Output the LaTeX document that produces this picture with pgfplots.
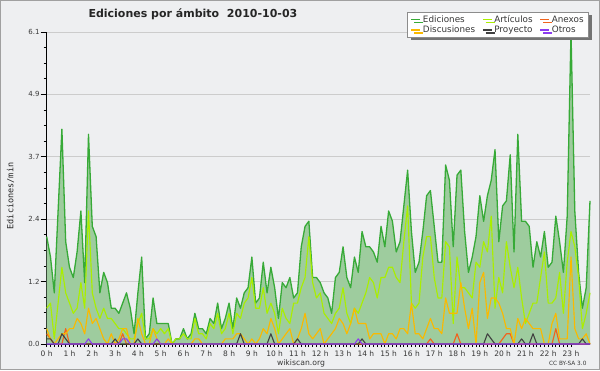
\documentclass[border=0pt]{standalone}
\usepackage{pgfplots}
\pgfplotsset{compat=1.18}
\usepackage{pgfplotstable}
\usepackage{fontspec}
\setmainfont{DejaVu Sans}
\newfontfamily\monofont{DejaVu Sans Mono}
\usetikzlibrary{shadows}
\definecolor{bgc}{RGB}{238,239,241}
\definecolor{framec}{RGB}{160,160,160}
\definecolor{gridc}{RGB}{204,204,204}
\definecolor{labc}{RGB}{55,55,55}
\definecolor{edline}{RGB}{55,170,55}
\definecolor{edfill}{RGB}{158,204,158}
\definecolor{artc}{RGB}{170,238,0}
\definecolor{discc}{RGB}{250,185,0}
\definecolor{anexc}{RGB}{240,100,30}
\definecolor{proyc}{RGB}{64,64,64}
\definecolor{otrosc}{RGB}{140,60,240}
\pgfplotstableread{
i ed art disc anex proy otros
0 2.1 0.7 0.3 0.2 0.1 0
1 1.7 0.8 0.1 0.1 0.1 0
2 1.0 0.1 0.0 0 0 0
3 2.6 0.8 0.1 0 0 0
4 4.2 1.5 0.2 0 0.2 0
5 2.0 1.0 0.2 0.3 0.1 0
6 1.5 0.8 0.3 0 0 0
7 1.3 0.6 0.3 0 0 0
8 1.8 0.7 0.5 0 0 0
9 2.6 1.2 0.4 0 0 0
10 1.2 0.7 0.2 0 0 0
11 4.1 2.6 0.7 0 0 0.1
12 2.3 1.0 0.4 0 0 0
13 2.1 0.7 0.5 0 0 0
14 1.0 0.5 0.3 0 0 0
15 1.4 0.7 0.1 0 0 0
16 1.2 0.5 0.0 0 0 0
17 0.7 0.5 0.2 0 0 0
18 0.7 0.4 0.0 0 0.1 0
19 0.6 0.3 0.1 0 0 0
20 0.8 0.3 0.3 0.2 0 0.1
21 1.0 0.2 0.3 0 0 0.1
22 0.7 0.1 0.0 0 0 0
23 0.2 0.1 0.0 0 0 0
24 1.0 0.4 0.5 0 0.1 0
25 1.7 0.6 0.2 0 0 0
26 0.1 0.1 0.0 0 0 0
27 0.2 0.1 0.0 0 0 0
28 0.9 0.3 0.3 0 0 0
29 0.4 0.2 0.1 0 0 0.1
30 0.4 0.3 0.0 0 0 0
31 0.4 0.2 0.0 0 0 0
32 0.4 0.3 0.1 0 0 0
33 0.0 0.0 0.0 0 0 0
34 0.1 0.1 0.0 0 0 0
35 0.1 0.1 0.0 0 0 0
36 0.3 0.2 0.0 0 0 0
37 0.1 0.1 0.0 0 0 0
38 0.2 0.1 0.0 0 0 0
39 0.6 0.5 0.1 0 0 0
40 0.3 0.2 0.1 0 0 0
41 0.3 0.2 0.0 0 0 0
42 0.2 0.1 0.0 0 0 0
43 0.5 0.4 0.0 0 0 0
44 0.4 0.3 0.0 0 0 0
45 0.8 0.6 0.0 0 0 0
46 0.3 0.2 0.0 0 0 0
47 0.5 0.3 0.1 0 0 0
48 0.8 0.6 0.1 0 0 0
49 0.3 0.2 0.1 0 0 0
50 0.9 0.6 0.2 0 0 0
51 0.7 0.5 0.2 0 0.2 0
52 1.0 0.8 0.1 0 0 0
53 1.1 0.9 0.0 0 0 0
54 1.7 1.3 0.1 0 0 0
55 0.8 0.7 0.0 0 0 0
56 0.9 0.7 0.1 0 0 0
57 1.6 1.1 0.3 0 0 0
58 1.0 0.6 0.2 0 0 0
59 1.5 0.8 0.5 0 0.2 0
60 1.1 0.6 0.3 0 0 0
61 0.5 0.2 0.0 0 0 0
62 1.2 0.7 0.1 0 0 0
63 1.1 0.5 0.2 0 0 0
64 1.3 0.4 0.3 0 0 0
65 0.9 0.8 0.0 0 0 0
66 1.0 0.8 0.1 0 0.1 0
67 1.9 1.1 0.3 0 0 0
68 2.3 1.3 0.6 0 0 0
69 2.4 2.1 0.2 0 0 0
70 1.3 1.2 0.1 0 0 0
71 1.3 0.9 0.2 0 0 0
72 1.2 1.0 0.3 0 0 0
73 1.0 0.6 0.0 0 0 0
74 0.9 0.5 0.1 0 0 0
75 0.6 0.4 0.2 0 0 0
76 1.3 0.6 0.3 0 0 0
77 1.4 0.7 0.5 0 0 0
78 1.9 1.1 0.4 0 0 0
79 1.3 0.6 0.2 0 0 0
80 1.1 0.4 0.4 0 0 0
81 1.7 0.7 0.7 0 0 0
82 1.4 0.6 0.4 0 0 0.1
83 2.2 0.8 0.4 0 0.1 0
84 1.9 1.0 0.4 0 0 0
85 1.9 1.3 0.1 0 0 0
86 1.8 1.2 0.2 0 0 0
87 1.6 0.9 0.2 0 0 0
88 2.3 1.3 0.2 0 0 0
89 1.9 1.3 0.0 0 0 0
90 2.6 1.5 0.2 0 0 0
91 2.4 1.5 0.2 0 0 0
92 1.8 1.3 0.1 0 0 0
93 2.0 1.2 0.3 0 0 0
94 2.7 2.0 0.3 0 0 0
95 3.4 2.7 0.2 0 0 0
96 2.2 0.8 0.8 0 0 0
97 1.4 0.7 0.2 0 0 0
98 1.6 0.8 0.2 0 0 0
99 2.2 1.7 0.1 0 0 0
100 2.9 2.1 0.3 0 0 0
101 3.0 2.1 0.5 0.1 0 0
102 2.3 1.3 0.3 0 0 0
103 1.6 0.9 0.3 0 0 0
104 1.6 0.9 0.2 0 0 0
105 3.5 2.0 0.9 0 0 0
106 3.2 1.9 0.6 0 0 0
107 1.9 0.4 0.6 0 0 0
108 3.3 1.7 0.6 0.2 0 0
109 3.4 1.1 1.2 0 0 0
110 2.2 1.1 0.7 0 0 0
111 1.4 1.0 0.3 0 0 0
112 1.7 0.9 0.7 0 0 0
113 2.1 1.6 0.0 0 0 0
114 2.9 1.5 1.2 0 0 0
115 2.4 2.0 1.4 0 0 0
116 2.9 1.8 0.5 0 0.2 0
117 3.2 2.5 0.9 0 0.1 0
118 3.8 0.7 0.9 0 0 0
119 2.0 1.3 0.8 0 0 0
120 2.7 1.0 0.6 0.1 0 0
121 2.8 2.0 0.3 0.2 0 0
122 3.7 1.5 0.3 0.2 0 0
123 1.8 1.1 0.0 0 0 0
124 4.1 1.5 0.5 0 0 0
125 2.4 0.9 0.3 0 0.1 0
126 2.4 0.4 0.5 0 0 0
127 2.3 0.6 0.4 0 0 0
128 1.5 0.8 0.3 0 0.2 0
129 2.0 0.8 0.3 0 0 0
130 1.7 1.3 0.3 0 0 0
131 2.2 1.8 0.0 0 0 0
132 1.5 0.8 0.0 0 0 0
133 1.6 0.8 0.4 0 0 0
134 2.5 0.9 0.6 0.3 0 0
135 2.0 1.4 0.1 0 0 0
136 1.4 0.6 0.1 0 0 0
137 2.5 1.6 0.1 0 0 0
138 6.1 2.2 1.7 0 0 0
139 2.6 1.9 0.3 0 0 0
140 1.4 1.3 0.1 0 0 0
141 0.7 0.3 0.1 0 0.1 0
142 1.1 0.6 0.2 0 0 0
143 2.8 1.0 0.0 0 0 0
}\data
\begin{document}
\begin{tikzpicture}[x=1pt,y=1pt]
\path[use as bounding box, fill=bgc] (-46.7,-26) rectangle (553.3,344);
\draw[framec, line width=1pt] (-46.2,-25.5) rectangle (552.8,343.5);
\begin{axis}[
  at={(0,0)}, anchor=south west,
  scale only axis, width=543.3pt, height=312pt,
  xmin=0, xmax=143, ymin=0, ymax=6.1,
  axis lines*=left,
  axis line style={black, line width=0.9pt},
  tick align=outside,
  xtick={0,6,...,138},
  xticklabels={0 h,1 h,2 h,3 h,4 h,5 h,6 h,7 h,8 h,9 h,10 h,11 h,12 h,13 h,14 h,15 h,16 h,17 h,18 h,19 h,20 h,21 h,22 h,23 h},
  minor x tick num=5,
  ytick={0,1.22,2.44,3.66,4.88,6.1},
  yticklabels={0.0,1.2,2.4,3.7,4.9,6.1},
  minor y tick num=3,
  major tick length=6pt, minor tick length=3pt,
  xtick style={/pgfplots/major tick length=3pt,/pgfplots/minor tick length=3pt, black, line width=0.8pt},
  ytick style={black, line width=0.8pt},
  ymajorgrids, major grid style={draw=gridc, line width=0.8pt},
  xticklabel style={font=\fontsize{7.5}{8}\selectfont, text=labc, inner sep=1pt},
  yticklabel style={font=\fontsize{7}{8}\selectfont, text=labc, inner sep=1pt},
  legend columns=3,
  legend style={at={(0.998,1.064)}, anchor=north east, draw=black!45, fill=white,
    line width=0.6pt, font=\fontsize{8.8}{9}\selectfont, text=labc,
    inner xsep=3pt, inner ysep=1pt, row sep=-2pt,
    /tikz/every even column/.append style={column sep=5pt},
    drop shadow={shadow xshift=3pt, shadow yshift=-3pt, fill=black!55, opacity=1},
    cells={anchor=west}},
  legend image code/.code={\draw[#1] (0pt,0pt) -- (9pt,0pt);},
  clip=false,
  every axis plot/.append style={line join=round},
]
\addplot[draw=none, fill=edfill, forget plot] table[x=i,y=ed]{\data} \closedcycle;
\addplot[edline, line width=1.3pt] table[x=i,y=ed]{\data};
\addlegendentry{Ediciones}
\addplot[artc, line width=1.15pt] table[x=i,y=art]{\data};
\addlegendentry{Artículos}
\addplot[anexc, line width=1.15pt] table[x=i,y=anex]{\data};
\addlegendentry{Anexos}
\addplot[discc, line width=1.15pt] table[x=i,y=disc]{\data};
\addlegendentry{Discusiones}
\addplot[proyc, line width=1.1pt] table[x=i,y=proy]{\data};
\addlegendentry{Proyecto}
\addplot[otrosc, line width=1.1pt] table[x=i,y=otros]{\data};
\addlegendentry{Otros}
\end{axis}
\node[anchor=base west, font=\bfseries\fontsize{11}{12}\selectfont, text=black!85] at (38.3,326.5) {Ediciones por ámbito\hspace{0.7em}2010-10-03};
\node[rotate=90, font=\monofont\fontsize{8.5}{9}\selectfont, text=black!85] at (-36.2,148) {Ediciones/min};
\node[anchor=base, font=\fontsize{7.7}{8}\selectfont, text=labc] at (254.3,-21) {wikiscan.org};
\node[anchor=base east, font=\fontsize{5.8}{6}\selectfont, text=labc] at (543.3,-21) {CC BY-SA 3.0};
\end{tikzpicture}
\end{document}
